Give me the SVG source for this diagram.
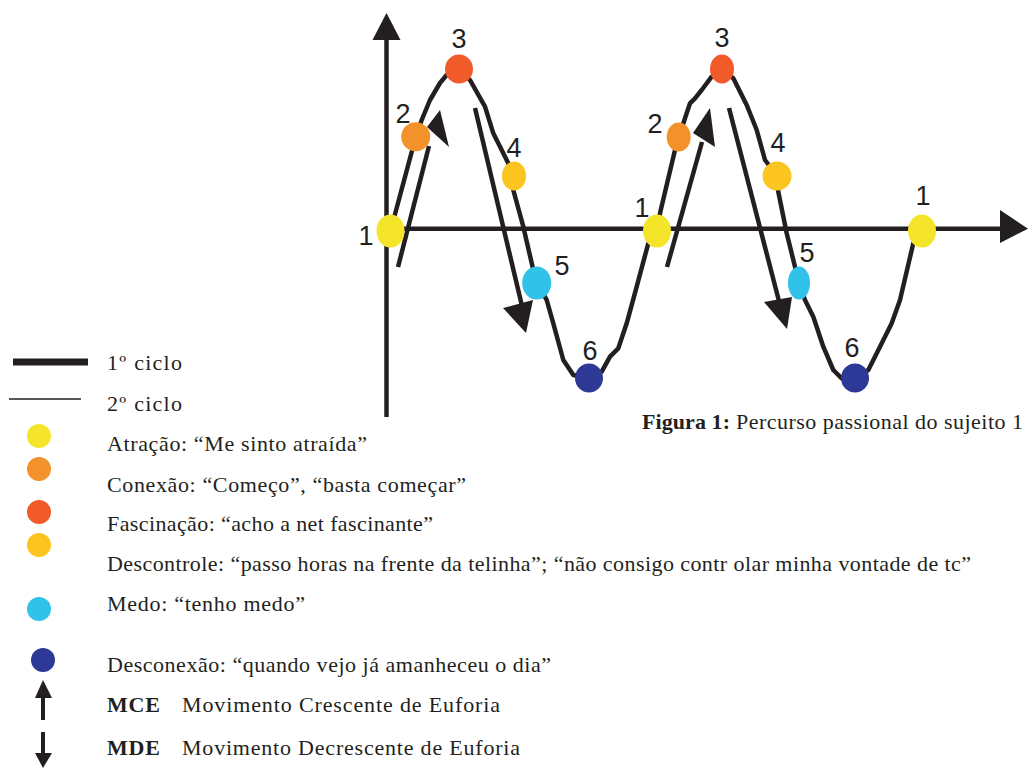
<svg xmlns="http://www.w3.org/2000/svg" width="1033" height="769" viewBox="0 0 1033 769">
<style>
.ln{fill:none;stroke:#231F20;stroke-width:4.5;stroke-linejoin:round;stroke-linecap:butt}
.ah{fill:#231F20}
.num{font-family:"Liberation Sans",Arial,sans-serif;font-size:27px;fill:#231F20;text-anchor:middle}
.lg{font-family:"Liberation Serif","Times New Roman",serif;font-size:22px;fill:#231F20}
.b{font-weight:bold}
.y{fill:#F5E52A}.o{fill:#F3912B}.r{fill:#F15A29}.yo{fill:#FBC41E}.c{fill:#30C2E8}.n{fill:#2E3896}
</style>
<rect width="1033" height="769" fill="#FFFFFF"/>
<g id="axes">
<line class="ln" x1="386.5" y1="38" x2="386.5" y2="417"/>
<polygon class="ah" points="386.5,13 372.5,40 400.5,40"/>
<line class="ln" x1="386" y1="228.7" x2="1002" y2="228.7"/>
<polygon class="ah" points="1028,228.7 1000,210 1000,243"/>
</g>
<g id="connectors">
<path class="ln" d="M390.5,231 L415.7,137 L421.7,120 L430,100 L440,83 L446.7,75 L459,69 L470,80 L485,106.7 L493.3,133.3 L503.3,153.3 L510,166.7 L514,176 L513.3,190 L523.3,226.7 L533.3,270 L536.7,283 L546.7,300 L553.3,323.3 L563.3,360 L573.3,375 L589,378 L601.7,371.7 L610,356.7 L618.3,348.3 L626.7,323.3 L636.7,286.7 L648.3,243.3 L657,231"/>
<path class="ln" d="M657,231 L660,213.3 L675,150 L678.7,137 L681.7,128.3 L690,103.3 L695,98.3 L701.7,90 L711.7,76.7 L722,69 L733.3,78.3 L746.7,105 L756.7,130 L765,160 L777,176 L778.3,191.7 L786.7,233.3 L795,266.7 L799,283 L805,300 L813.3,316.7 L823.3,346.7 L833.3,370 L841.7,378.3 L855,378 L868.3,370 L880,346.7 L891.7,323.3 L900,300 L913.3,243.3 L922,231"/>
<line class="ln" x1="398" y1="267" x2="429" y2="146"/>
<polygon class="ah" points="440,110 427,127 449,147"/>
<line class="ln" x1="475" y1="108" x2="522" y2="306"/>
<polygon class="ah" points="526,333 503,308 533,300"/>
<line class="ln" x1="667" y1="267" x2="702" y2="142"/>
<polygon class="ah" points="710,108 693,133 715,147"/>
<line class="ln" x1="729" y1="108" x2="780" y2="305"/>
<polygon class="ah" points="787,329 764,302 792,297"/>
</g>
<g id="n1a"><ellipse class="y" cx="390.5" cy="231" rx="14" ry="16.5"/><text class="num" x="366" y="245">1</text></g>
<g id="n2a"><ellipse class="o" cx="415.7" cy="136.7" rx="14.5" ry="14.5"/><text class="num" x="403" y="123">2</text></g>
<g id="n3a"><ellipse class="r" cx="459" cy="69" rx="14" ry="14.5"/><text class="num" x="459" y="48">3</text></g>
<g id="n4a"><ellipse class="yo" cx="514" cy="176" rx="12" ry="14.5"/><text class="num" x="514" y="157">4</text></g>
<g id="n5a"><ellipse class="c" cx="536.7" cy="283" rx="14.5" ry="16.5"/><text class="num" x="562" y="275">5</text></g>
<g id="n6a"><ellipse class="n" cx="589" cy="378" rx="14" ry="14.5"/><text class="num" x="590" y="360">6</text></g>
<g id="n1b"><ellipse class="y" cx="657" cy="231" rx="14" ry="16.5"/><text class="num" x="642" y="217">1</text></g>
<g id="n2b"><ellipse class="o" cx="678.7" cy="137" rx="12" ry="14.5"/><text class="num" x="655" y="133">2</text></g>
<g id="n3b"><ellipse class="r" cx="722" cy="69" rx="12" ry="14.5"/><text class="num" x="722" y="47">3</text></g>
<g id="n4b"><ellipse class="yo" cx="777" cy="176" rx="14.5" ry="14.5"/><text class="num" x="778" y="152">4</text></g>
<g id="n5b"><ellipse class="c" cx="799" cy="283" rx="11" ry="16.5"/><text class="num" x="807" y="262">5</text></g>
<g id="n6b"><ellipse class="n" cx="855" cy="378" rx="14" ry="14.5"/><text class="num" x="852" y="357">6</text></g>
<g id="n1c"><ellipse class="y" cx="922" cy="231" rx="14" ry="16.5"/><text class="num" x="923" y="205">1</text></g>
<g id="caption">
<text class="lg" y="429"><tspan class="b" x="642" textLength="88" lengthAdjust="spacing">Figura 1:</tspan><tspan x="736" textLength="287" lengthAdjust="spacing">Percurso passional do sujeito 1</tspan></text>
</g>
<g id="legend">
<line x1="13" y1="362" x2="88" y2="362" stroke="#231F20" stroke-width="7"/>
<text class="lg" x="107" y="370" textLength="75" lengthAdjust="spacing">1º ciclo</text>
<line x1="9" y1="399" x2="81" y2="399" stroke="#231F20" stroke-width="1.5"/>
<text class="lg" x="107" y="411" textLength="75" lengthAdjust="spacing">2º ciclo</text>
<circle class="y" cx="39" cy="436" r="12"/>
<text class="lg" x="107" y="451" textLength="260" lengthAdjust="spacing">Atração: “Me sinto atraída”</text>
<circle class="o" cx="39" cy="469" r="12"/>
<text class="lg" x="107" y="492" textLength="359" lengthAdjust="spacing">Conexão: “Começo”, “basta começar”</text>
<circle class="r" cx="39" cy="512" r="12"/>
<text class="lg" x="107" y="531" textLength="326" lengthAdjust="spacing">Fascinação: “acho a net fascinante”</text>
<circle class="yo" cx="39" cy="545" r="12"/>
<text class="lg" x="107" y="571" textLength="864" lengthAdjust="spacing">Descontrole: “passo horas na frente da telinha”; “não consigo contr olar minha vontade de tc”</text>
<circle class="c" cx="39" cy="609" r="12"/>
<text class="lg" x="107" y="611" textLength="198" lengthAdjust="spacing">Medo: “tenho medo”</text>
<circle class="n" cx="43" cy="660" r="12"/>
<text class="lg" x="107" y="672" textLength="444" lengthAdjust="spacing">Desconexão: “quando vejo já amanheceu o dia”</text>
<line x1="43" y1="720" x2="43" y2="696" stroke="#231F20" stroke-width="4"/>
<polygon class="ah" points="43,680 35,698 52,698"/>
<text class="lg b" x="107" y="712" textLength="53" lengthAdjust="spacing">MCE</text>
<text class="lg" x="182" y="712" textLength="318" lengthAdjust="spacing">Movimento Crescente de Euforia</text>
<line x1="43" y1="732" x2="43" y2="755" stroke="#231F20" stroke-width="4"/>
<polygon class="ah" points="43,768 35,753 52,753"/>
<text class="lg b" x="107" y="755" textLength="53" lengthAdjust="spacing">MDE</text>
<text class="lg" x="182" y="755" textLength="338" lengthAdjust="spacing">Movimento Decrescente de Euforia</text>
</g>
</svg>
